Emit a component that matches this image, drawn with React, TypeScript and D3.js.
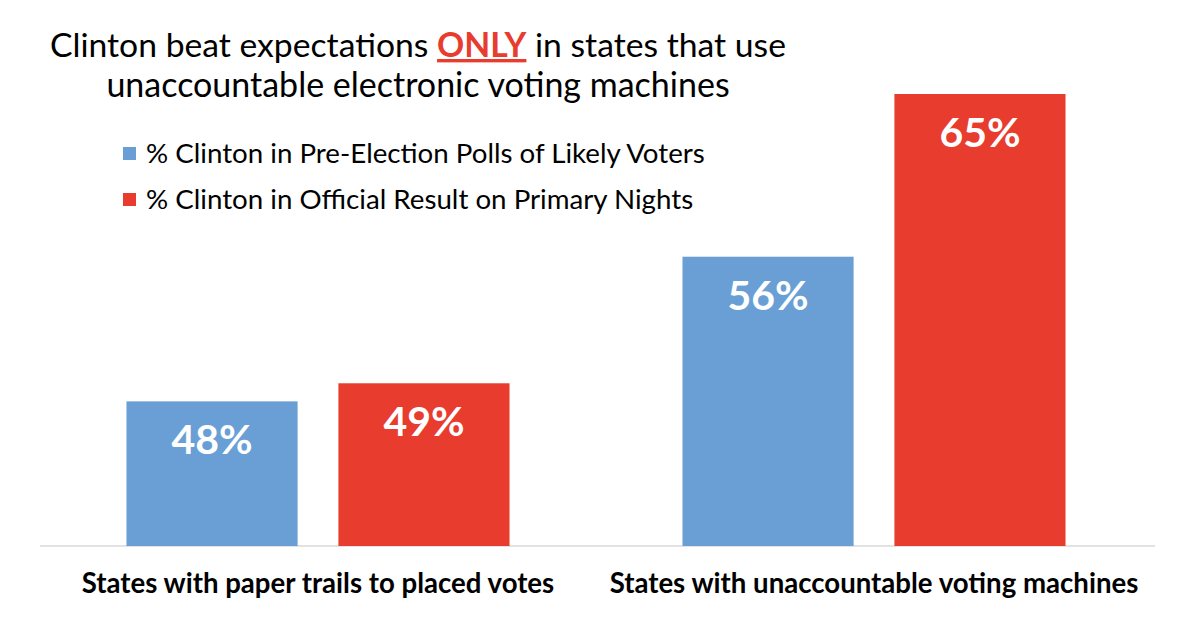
import React from "react";
import * as d3 from "d3";

const categories = [
  "States with paper trails to placed votes",
  "States with unaccountable voting machines",
];
const seriesNames = [
  "% Clinton in Pre-Election Polls of Likely Voters",
  "% Clinton in Official Result on Primary Nights",
];
const pollValues = [48, 56];
const resultValues = [49, 65];
const seriesColors = ["#6A9FD5", "#E83C2F"];
const yDomain = [40, 65];

const W = 1200;
const H = 620;
const FONT = "Lato, 'Open Sans', sans-serif";

export default function App() {
  const x0 = d3.scaleBand<number>().domain([0, 1]).range([40, 1152]).padding(0);
  const x1 = d3
    .scaleBand<number>()
    .domain([0, 1])
    .range([0, x0.bandwidth()])
    .paddingInner(0.1925)
    .paddingOuter(0.408);
  const y = d3.scaleLinear().domain(yDomain).range([546, 94]);

  const series = [pollValues, resultValues];

  return (
    <svg
      width={W}
      height={H}
      style={{ position: "absolute", left: 0, top: 0, background: "#fff" }}
    >
      <rect x={0} y={0} width={W} height={H} fill="#fff" />
      {/* Title */}
      <text
        x={418}
        y={57}
        textAnchor="middle"
        fontFamily={FONT}
        fontSize={33.7}
        fill="#000"
      >
        <tspan>Clinton beat expectations </tspan>
        <tspan fill="#E83C2F" fontWeight="bold" textDecoration="underline">
          ONLY
        </tspan>
        <tspan> in states that use</tspan>
      </text>
      <text
        x={418}
        y={97}
        textAnchor="middle"
        fontFamily={FONT}
        fontSize={34}
        fill="#000"
      >
        unaccountable electronic voting machines
      </text>

      {/* Legend */}
      {seriesNames.map((name, i) => (
        <g key={name} transform={`translate(123, ${147 + i * 46})`}>
          <rect x={0} y={0} width={13} height={13} fill={seriesColors[i]} />
          <text
            x={23}
            y={16}
            fontFamily={FONT}
            fontSize={27.7}
            fill="#000"
          >
            {name}
          </text>
        </g>
      ))}

      {/* Baseline */}
      <line
        x1={40}
        x2={1155}
        y1={y(yDomain[0])}
        y2={y(yDomain[0])}
        stroke="#D9D9D9"
        strokeWidth={1.5}
      />

      {/* Bars */}
      {categories.map((cat, ci) => (
        <g key={cat} transform={`translate(${x0(ci)}, 0)`}>
          {series.map((vals, si) => {
            const v = vals[ci];
            const bx = x1(si)!;
            const bw = x1.bandwidth();
            return (
              <g key={si}>
                <rect
                  x={bx}
                  y={y(v)}
                  width={bw}
                  height={y(yDomain[0]) - y(v)}
                  fill={seriesColors[si]}
                />
                <text
                  x={bx + bw / 2}
                  y={y(v) + 53}
                  textAnchor="middle"
                  fontFamily={FONT}
                  fontWeight="bold"
                  fontSize={41}
                  fill="#fff"
                >
                  {v}%
                </text>
              </g>
            );
          })}
          <text
            x={x0.bandwidth() / 2}
            y={593}
            textAnchor="middle"
            fontFamily={FONT}
            fontWeight="bold"
            fontSize={27.6}
            fill="#000"
          >
            {cat}
          </text>
        </g>
      ))}
    </svg>
  );
}
